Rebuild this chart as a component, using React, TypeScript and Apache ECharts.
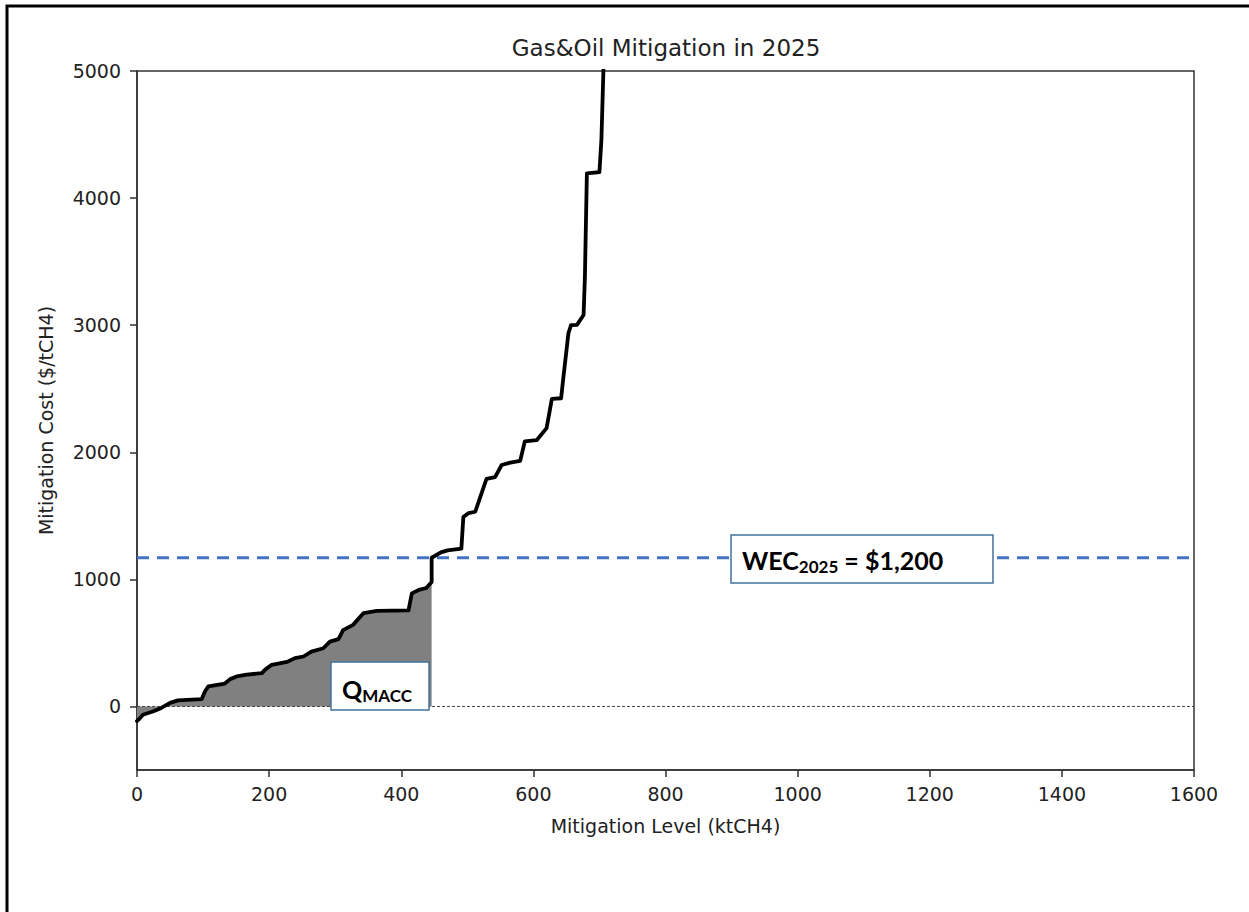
import React, { useEffect, useRef } from "react";
import * as echarts from "echarts";

const titleText = "Gas&Oil Mitigation in 2025";
const xAxisName = "Mitigation Level (ktCH4)";
const yAxisName = "Mitigation Cost ($/tCH4)";
const xTicks = [0, 200, 400, 600, 800, 1000, 1200, 1400, 1600];
const yTicks = [0, 1000, 2000, 3000, 4000, 5000];
const wecValue = 1170;
const wecLabel = ["WEC", "2025", " = $1,200"];
const qLabel = ["Q", "MACC"];

// MACC curve portion below WEC (shaded)
const shadedCurve: number[][] = [
  [0, -115], [3, -100], [9, -65], [24, -40], [37, -12], [50, 28], [62, 48], [98, 58],
  [103, 120], [108, 158], [133, 180], [141, 215], [151, 236], [166, 250], [189, 262],
  [194, 290], [204, 328], [227, 350], [239, 380], [252, 393], [264, 432], [282, 458],
  [292, 510], [305, 530], [312, 600], [327, 642], [343, 735], [363, 752], [411, 756],
  [416, 890], [428, 920], [438, 932], [446, 980],
];
// MACC curve portion above WEC
const upperCurve: number[][] = [
  [446, 1170], [460, 1212], [470, 1228], [491, 1242], [494, 1490], [502, 1522], [512, 1532],
  [529, 1790], [542, 1805], [552, 1900], [565, 1918], [580, 1932], [587, 2085], [605, 2095],
  [620, 2190], [628, 2420], [642, 2425], [645, 2570], [653, 2935], [657, 3000], [666, 3002],
  [676, 3080], [678, 3380], [681, 4195], [700, 4205], [703, 4460], [706, 5000], [708, 5400],
];

export default function App() {
  const ref = useRef<HTMLDivElement>(null);
  useEffect(() => {
    if (!ref.current) return;
    const chart = echarts.init(ref.current, null, { renderer: "svg" });
    const tickFont = { fontFamily: "DejaVu Sans", fontSize: 19, color: "#222" };
    chart.setOption({
      animation: false,
      backgroundColor: "#fff",
      title: {
        text: titleText,
        left: 661,
        top: 31,
        textAlign: "center",
        textStyle: { fontFamily: "DejaVu Sans", fontSize: 23, fontWeight: "normal", color: "#222" },
      },
      grid: {
        left: 137, right: 55, top: 71, bottom: 142,
        show: true, borderColor: "#333", borderWidth: 1.5, backgroundColor: "transparent",
      },
      xAxis: {
        type: "value", min: 0, max: 1600, interval: 200,
        name: xAxisName, nameLocation: "middle", nameGap: 46,
        nameTextStyle: { fontFamily: "DejaVu Sans", fontSize: 19, color: "#222" },
        axisLine: { show: true, onZero: false, lineStyle: { color: "#333", width: 1.5 } },
        axisTick: { show: true, inside: false, length: 7, lineStyle: { color: "#333", width: 1.5 } },
        axisLabel: { ...tickFont, margin: 14, formatter: (v: number) => (xTicks.includes(v) ? String(v) : "") },
        splitLine: { show: false },
      },
      yAxis: {
        type: "value", min: -500, max: 5000,
        name: yAxisName, nameLocation: "middle", nameGap: 82,
        nameTextStyle: { fontFamily: "DejaVu Sans", fontSize: 19, color: "#222" },
        axisLine: { show: true, onZero: false, lineStyle: { color: "#333", width: 1.5 } },
        axisTick: { show: true, inside: false, length: 7, customValues: yTicks, lineStyle: { color: "#333", width: 1.5 } },
        axisLabel: { ...tickFont, margin: 16, customValues: yTicks, formatter: (v: number) => String(v) },
        splitLine: { show: false },
      },
      series: [
        {
          type: "line", data: shadedCurve, symbol: "none", silent: true, z: 1,
          lineStyle: { width: 0, opacity: 0 },
          areaStyle: { color: "#808080", opacity: 1, origin: 0 },
        },
        {
          type: "line", data: [[0, 0], [1600, 0]], symbol: "none", silent: true, z: 2,
          lineStyle: { color: "#444", width: 1, type: [3, 2] },
        },
        {
          type: "line", data: [[0, wecValue], [1600, wecValue]], symbol: "none", silent: true, z: 3,
          lineStyle: { color: "#4472C4", width: 3, type: [12, 8] },
        },
        {
          type: "line", data: [...shadedCurve, ...upperCurve], symbol: "none", silent: true, z: 4,
          lineStyle: { color: "#000", width: 3.8, cap: "round", join: "round" },
        },
      ],
      graphic: [
        {
          type: "rect", z: 100, silent: true,
          shape: { x: 7, y: 6, width: 1300, height: 1000 },
          style: { fill: "none", stroke: "#000", lineWidth: 3 },
        },
        {
          type: "rect", z: 100, silent: true,
          shape: { x: 331, y: 662, width: 98, height: 48 },
          style: { fill: "#fff", stroke: "#41719C", lineWidth: 1.5 },
        },
        {
          type: "text", z: 101, silent: true, x: 342, y: 689,
          style: {
            text: `{a|${qLabel[0]}}{s|${qLabel[1]}}`,
            verticalAlign: "middle",
            rich: {
              a: { fontFamily: "Lato", fontWeight: "bold", fontSize: 25, lineHeight: 30, fill: "#000" },
              s: { fontFamily: "Lato", fontWeight: "bold", fontSize: 17, lineHeight: 15, verticalAlign: "bottom", fill: "#000" },
            },
          },
        },
        {
          type: "rect", z: 100, silent: true,
          shape: { x: 731, y: 535, width: 262, height: 48 },
          style: { fill: "#fff", stroke: "#41719C", lineWidth: 1.5 },
        },
        {
          type: "text", z: 101, silent: true, x: 742, y: 560,
          style: {
            text: `{a|${wecLabel[0]}}{s|${wecLabel[1]}}{a|${wecLabel[2]}}`,
            verticalAlign: "middle",
            rich: {
              a: { fontFamily: "Lato", fontWeight: "bold", fontSize: 25, lineHeight: 30, fill: "#000" },
              s: { fontFamily: "Lato", fontWeight: "bold", fontSize: 17, lineHeight: 16, verticalAlign: "bottom", fill: "#000" },
            },
          },
        },
      ],
    });
    return () => chart.dispose();
  }, []);
  return (
    <div
      ref={ref}
      style={{ position: "fixed", left: 0, top: 0, width: 1249, height: 912, background: "#fff" }}
    />
  );
}
